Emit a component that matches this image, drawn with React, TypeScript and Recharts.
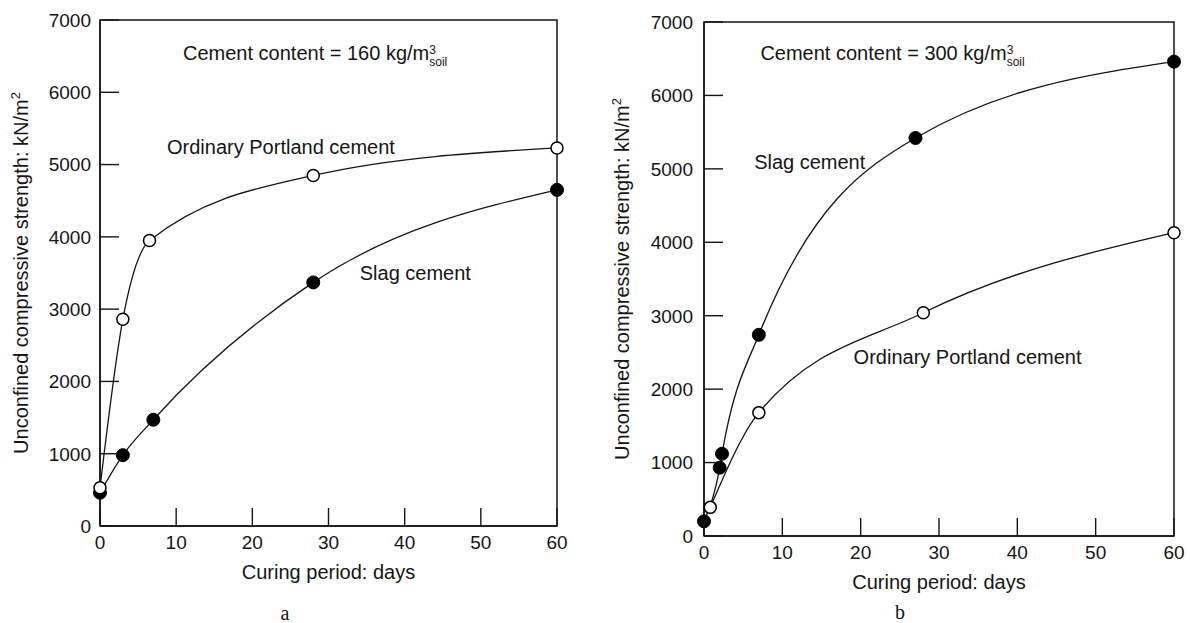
import React from "react";
import {
  LineChart,
  Line,
  XAxis,
  YAxis,
  ReferenceArea,
  ReferenceDot,
} from "recharts";

// --- data (days, kN/m2) ---
const dayTicks = [0, 10, 20, 30, 40, 50, 60];
const strengthTicks = [0, 1000, 2000, 3000, 4000, 5000, 6000, 7000];

// panel a: 160 kg/m3
const aSlagDays = [0, 3, 7, 28, 60];
const aSlagValues = [460, 980, 1470, 3370, 4650];
const aOpcDays = [0, 3, 6.5, 28, 60];
const aOpcValues = [530, 2860, 3950, 4850, 5230];

// panel b: 300 kg/m3
const bSlagDays = [0, 2, 2.3, 7, 27, 60];
const bSlagValues = [200, 930, 1120, 2740, 5420, 6460];
const bOpcDays = [0.8, 7, 28, 60];
const bOpcValues = [390, 1680, 3040, 4130];

const INK = "#151515";
const FONT = '"Liberation Sans", Arial, Helvetica, sans-serif';

const toRows = (days: number[], values: number[]) =>
  days.map((d, i) => ({ day: d, value: values[i] }));

function YTick(props: any) {
  const { x, y, payload, gap, len } = props;
  const ax = x + gap;
  return (
    <g>
      <line x1={ax} x2={ax + len} y1={y} y2={y} stroke={INK} strokeWidth={1.4} />
      <text x={x} y={y} dy="0.36em" textAnchor="end" fontSize={19} fontFamily={FONT} fill={INK}>
        {payload.value}
      </text>
    </g>
  );
}

function XTick(props: any) {
  const { x, y, payload, gap, len } = props;
  const ay = y - gap;
  return (
    <g>
      <line x1={x} x2={x} y1={ay} y2={ay - len} stroke={INK} strokeWidth={1.4} />
      <text x={x} y={y} dy="0.71em" textAnchor="middle" fontSize={19} fontFamily={FONT} fill={INK}>
        {payload.value}
      </text>
    </g>
  );
}

const xTitle = (props: any) => {
  const vb = props.viewBox;
  return (
    <text
      x={vb.x + vb.width / 2}
      y={vb.y + 46}
      dy="0.36em"
      textAnchor="middle"
      fontSize={20}
      fontFamily={FONT}
      fill={INK}
    >
      Curing period: days
    </text>
  );
};

const yTitle = (cx: number) => (props: any) => {
  const vb = props.viewBox;
  const cy = vb.y + vb.height / 2;
  return (
    <text
      x={vb.x + cx}
      y={cy}
      dy="0.36em"
      textAnchor="middle"
      fontSize={20}
      fontFamily={FONT}
      fill={INK}
      transform={`rotate(-90, ${vb.x + cx}, ${cy})`}
    >
      Unconfined compressive strength: kN/m
      <tspan fontSize={13} dy={-8}>2</tspan>
    </text>
  );
};

const note = (text: string, sup?: string, sub?: string) => (props: any) => {
  const vb = props.viewBox;
  return (
    <text x={vb.x} y={vb.y} dy="0.36em" fontSize={20} fontFamily={FONT} fill={INK}>
      {text}
      {sup && (
        <tspan fontSize={12} dy={-6}>
          {sup}
        </tspan>
      )}
      {sub && (
        <tspan fontSize={12} dx={-6.7} dy={12}>
          {sub}
        </tspan>
      )}
    </text>
  );
};

interface PanelProps {
  width: number;
  height: number;
  margin: { top: number; right: number; bottom: number; left: number };
  yAxisWidth: number;
  yGap: number;
  titleX: number;
  slag: { day: number; value: number }[];
  opc: { day: number; value: number }[];
  notes: { x: number; y: number; text: string; sup?: string; sub?: string }[];
}

function Panel({ width, height, margin, yAxisWidth, yGap, titleX, slag, opc, notes }: PanelProps) {
  return (
    <LineChart width={width} height={height} margin={margin}>
      <XAxis
        dataKey="day"
        type="number"
        domain={[0, 60]}
        ticks={dayTicks}
        interval={0}
        tickSize={0}
        tickMargin={10}
        tickLine={false}
        axisLine={{ stroke: INK, strokeWidth: 1.5 }}
        tick={<XTick gap={10} len={18} />}
        height={60}
        label={xTitle}
      />
      <YAxis
        dataKey="value"
        type="number"
        domain={[0, 7000]}
        ticks={strengthTicks}
        interval={0}
        tickSize={0}
        tickMargin={yGap}
        tickLine={false}
        axisLine={{ stroke: INK, strokeWidth: 1.5 }}
        tick={<YTick gap={yGap} len={19} />}
        width={yAxisWidth}
        label={yTitle(titleX)}
      />
      <ReferenceArea
        x1={0}
        x2={60}
        y1={0}
        y2={7000}
        fill="none"
        fillOpacity={0}
        stroke={INK}
        strokeWidth={1.5}
      />
      {notes.map((n, i) => (
        <ReferenceDot
          key={i}
          x={n.x}
          y={n.y}
          r={0}
          fill="none"
          stroke="none"
          label={note(n.text, n.sup, n.sub)}
        />
      ))}
      <Line
        data={slag}
        dataKey="value"
        type="monotone"
        stroke={INK}
        strokeWidth={1.3}
        dot={{ r: 6.5, fill: "#000", stroke: "#000", strokeWidth: 1 }}
        isAnimationActive={false}
      />
      <Line
        data={opc}
        dataKey="value"
        type="monotone"
        stroke={INK}
        strokeWidth={1.3}
        dot={{ r: 6, fill: "#fff", stroke: "#000", strokeWidth: 1.5 }}
        isAnimationActive={false}
      />
    </LineChart>
  );
}

const caption: React.CSSProperties = {
  position: "absolute",
  transform: "translate(-50%, -50%)",
  fontFamily: '"Liberation Serif", "Times New Roman", serif',
  fontSize: 20,
  color: INK,
};

export default function App() {
  return (
    <div
      style={{
        position: "absolute",
        left: 0,
        top: 0,
        width: 1190,
        height: 623,
        background: "#fff",
      }}
    >
      <div style={{ position: "absolute", left: 0, top: 0 }}>
        <Panel
          width={600}
          height={623}
          margin={{ top: 20, right: 43, bottom: 37, left: 0 }}
          yAxisWidth={100}
          yGap={9}
          titleX={21}
          slag={toRows(aSlagDays, aSlagValues)}
          opc={toRows(aOpcDays, aOpcValues)}
          notes={[
            { x: 10.9, y: 6545, text: "Cement content = 160 kg/m", sup: "3", sub: "soil" },
            { x: 8.8, y: 5250, text: "Ordinary Portland cement" },
            { x: 34.1, y: 3500, text: "Slag cement" },
          ]}
        />
      </div>
      <div style={{ position: "absolute", left: 600, top: 0 }}>
        <Panel
          width={590}
          height={623}
          margin={{ top: 22, right: 16, bottom: 27, left: 0 }}
          yAxisWidth={104}
          yGap={11}
          titleX={22}
          slag={toRows(bSlagDays, bSlagValues)}
          opc={toRows(bOpcDays, bOpcValues)}
          notes={[
            { x: 7.2, y: 6580, text: "Cement content = 300 kg/m", sup: "3", sub: "soil" },
            { x: 6.4, y: 5100, text: "Slag cement" },
            { x: 19.1, y: 2440, text: "Ordinary Portland cement" },
          ]}
        />
      </div>
      <div style={{ ...caption, left: 285, top: 613 }}>a</div>
      <div style={{ ...caption, left: 900, top: 612 }}>b</div>
    </div>
  );
}
